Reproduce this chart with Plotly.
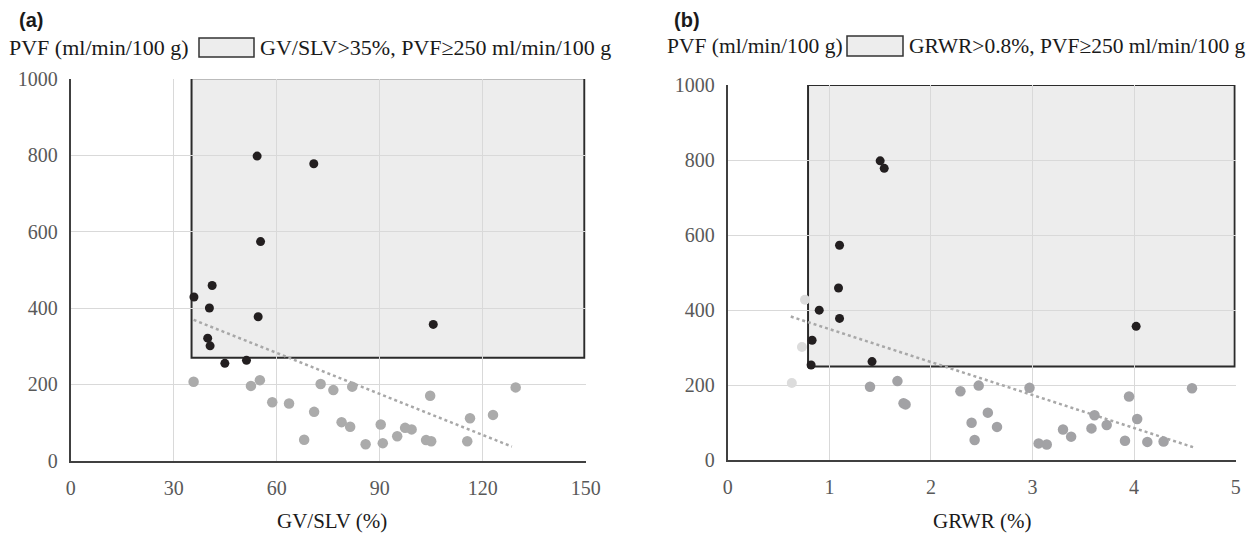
import plotly.graph_objects as go

# ---------------- Data: panel (a) GV/SLV vs PVF ----------------
a_black_x = [54.3, 70.8, 55.3, 41.2, 35.9, 40.4, 54.6, 39.9, 40.6, 44.9, 51.2, 105.6]
a_black_y = [798, 778, 574, 459, 429, 400, 377, 321, 301, 255, 263, 357]
a_gray_x = [35.8, 52.5, 55.1, 58.7, 63.6, 68.0, 70.9, 72.8, 76.5, 78.9, 81.4, 82.0, 85.9,
            90.3, 90.9, 95.1, 97.4, 99.3, 103.5, 105.0, 104.7, 115.5, 116.3, 123.0, 129.6]
a_gray_y = [207, 196, 211, 153, 150, 55, 128, 201, 185, 101, 89, 194, 43,
            95, 46, 64, 86, 82, 54, 51, 170, 51, 111, 120, 192]
a_trend_x = [35.8, 128.5]
a_trend_y = [369, 37]
a_box = [35.2, 149.6, 270, 1002]   # x0, x1, y0, y1

# ---------------- Data: panel (b) GRWR vs PVF ----------------
b_black_x = [1.50, 1.54, 1.10, 1.09, 0.90, 1.10, 0.83, 0.82, 1.42, 4.02]
b_black_y = [798, 778, 573, 459, 400, 378, 320, 254, 263, 357]
b_light_x = [0.76, 0.73, 0.63]
b_light_y = [428, 302, 206]
b_gray_x = [1.40, 1.67, 1.73, 1.75, 2.29, 2.47, 2.40, 2.56, 2.65, 2.43, 2.97, 3.06, 3.14,
            3.30, 3.38, 3.58, 3.61, 3.73, 3.91, 3.95, 4.03, 4.13, 4.29, 4.57]
b_gray_y = [196, 211, 152, 149, 184, 199, 100, 127, 89, 54, 193, 45, 42,
            82, 63, 85, 120, 94, 52, 170, 110, 49, 50, 192]
b_trend_x = [0.62, 4.58]
b_trend_y = [383, 35]
b_box = [0.79, 4.99, 250, 1000]

a_xticks = [0, 30, 60, 90, 120, 150]
b_xticks = [0, 1, 2, 3, 4, 5]
yticks = [0, 200, 400, 600, 800, 1000]

x_title_a = "GV/SLV (%)"
x_title_b = "GRWR (%)"
y_title = "PVF (ml/min/100 g)"
legend_a = "GV/SLV>35%, PVF≥250 ml/min/100 g"
legend_b = "GRWR>0.8%, PVF≥250 ml/min/100 g"

W, H = 1253, 533
def px(x): return x / W
def py(y): return 1 - y / H

BLACK = "#231f20"
GRAY_A = "#ababab"
GRAY_B = "#a2a2a5"
LIGHT = "#dcdcdc"
TREND = "#a8a8a8"
FILL = "#ededed"
SERIF = "Liberation Serif, Times New Roman, serif"

fig = go.Figure()

# panel a
fig.add_trace(go.Scatter(x=a_trend_x, y=a_trend_y, mode="lines",
                         line=dict(color=TREND, width=2.5, dash="dot"), xaxis="x", yaxis="y"))
fig.add_trace(go.Scatter(x=a_gray_x, y=a_gray_y, mode="markers",
                         marker=dict(color=GRAY_A, size=10.5, line=dict(width=0)), xaxis="x", yaxis="y"))
fig.add_trace(go.Scatter(x=a_black_x, y=a_black_y, mode="markers",
                         marker=dict(color=BLACK, size=9, line=dict(width=0)), xaxis="x", yaxis="y"))
# panel b
fig.add_trace(go.Scatter(x=b_trend_x, y=b_trend_y, mode="lines",
                         line=dict(color=TREND, width=2.5, dash="dot"), xaxis="x2", yaxis="y2"))
fig.add_trace(go.Scatter(x=b_light_x, y=b_light_y, mode="markers",
                         marker=dict(color=LIGHT, size=10, line=dict(width=0)), xaxis="x2", yaxis="y2"))
fig.add_trace(go.Scatter(x=b_gray_x, y=b_gray_y, mode="markers",
                         marker=dict(color=GRAY_B, size=10.5, line=dict(width=0)), xaxis="x2", yaxis="y2"))
fig.add_trace(go.Scatter(x=b_black_x, y=b_black_y, mode="markers",
                         marker=dict(color=BLACK, size=9, line=dict(width=0)), xaxis="x2", yaxis="y2"))

tickfont = dict(family=SERIF, size=20, color="#595959")
common_x = dict(showgrid=True, gridcolor="#d9d9d9", gridwidth=1, zeroline=False,
                showline=True, linecolor="#404040", linewidth=2, ticks="",
                tickfont=tickfont, ticklabelstandoff=8, automargin=False)
common_y = dict(showgrid=True, gridcolor="#d9d9d9", gridwidth=1, zeroline=False,
                showline=True, linecolor="#404040", linewidth=2, ticks="",
                tickfont=tickfont, ticklabelstandoff=7, range=[0, 1000],
                tickvals=yticks, automargin=False)

fig.update_layout(
    template="none",
    width=W, height=H, autosize=False,
    margin=dict(l=0, r=0, t=0, b=0, pad=0),
    paper_bgcolor="white", plot_bgcolor="white",
    showlegend=False,
    font=dict(family=SERIF),
    xaxis=dict(domain=[px(70.7), px(585.7)], range=[0, 150], tickvals=a_xticks, anchor="y", **common_x),
    yaxis=dict(domain=[py(460.7), py(79)], anchor="x", **common_y),
    xaxis2=dict(domain=[px(727.8), px(1235.7)], range=[0, 5], tickvals=b_xticks, anchor="y2", **common_x),
    yaxis2=dict(domain=[py(460.3), py(85)], anchor="x2", **common_y),
)

# region boxes (data coordinates)
fig.add_shape(type="rect", xref="x", yref="y", x0=a_box[0], x1=a_box[1], y0=a_box[2], y1=a_box[3],
              fillcolor=FILL, line=dict(color="#2b2b2b", width=2), layer="below")
fig.add_shape(type="rect", xref="x2", yref="y2", x0=b_box[0], x1=b_box[1], y0=b_box[2], y1=b_box[3],
              fillcolor=FILL, line=dict(color="#2b2b2b", width=2), layer="below")

# legend swatches
fig.add_shape(type="rect", xref="paper", yref="paper", x0=px(199), x1=px(254), y0=py(57), y1=py(38),
              fillcolor=FILL, line=dict(color="#333333", width=1.5))
fig.add_shape(type="rect", xref="paper", yref="paper", x0=px(847), x1=px(903), y0=py(56), y1=py(36),
              fillcolor=FILL, line=dict(color="#333333", width=1.5))

txt = dict(family=SERIF, size=22, color="#1a1a1a")
txt_b = dict(family=SERIF, size=21.5, color="#1a1a1a")
panel = dict(family="Liberation Sans, Arial, sans-serif", size=20, color="#1a1a1a")
ann = [
    dict(text="<b>(a)</b>", x=px(18), y=py(20), xanchor="left", yanchor="middle", font=panel),
    dict(text="<b>(b)</b>", x=px(673), y=py(20), xanchor="left", yanchor="middle", font=panel),
    dict(text=y_title, x=px(8), y=py(48), xanchor="left", yanchor="middle", font=txt),
    dict(text=legend_a, x=px(259), y=py(48), xanchor="left", yanchor="middle", font=txt),
    dict(text=y_title, x=px(666), y=py(46), xanchor="left", yanchor="middle", font=txt_b),
    dict(text=legend_b, x=px(908), y=py(46), xanchor="left", yanchor="middle", font=txt_b),
    dict(text=x_title_a, x=px(332), y=py(521), xanchor="center", yanchor="middle",
         font=dict(family=SERIF, size=21, color="#1a1a1a")),
    dict(text=x_title_b, x=px(982), y=py(521), xanchor="center", yanchor="middle",
         font=dict(family=SERIF, size=21, color="#1a1a1a")),
]
for a in ann:
    a.update(xref="paper", yref="paper", showarrow=False, borderpad=0)
    fig.add_annotation(**a)

fig.write_html("out.html",
               config={"displayModeBar": False},
               post_script="document.body.style.margin='0';document.body.style.overflow='hidden';")
